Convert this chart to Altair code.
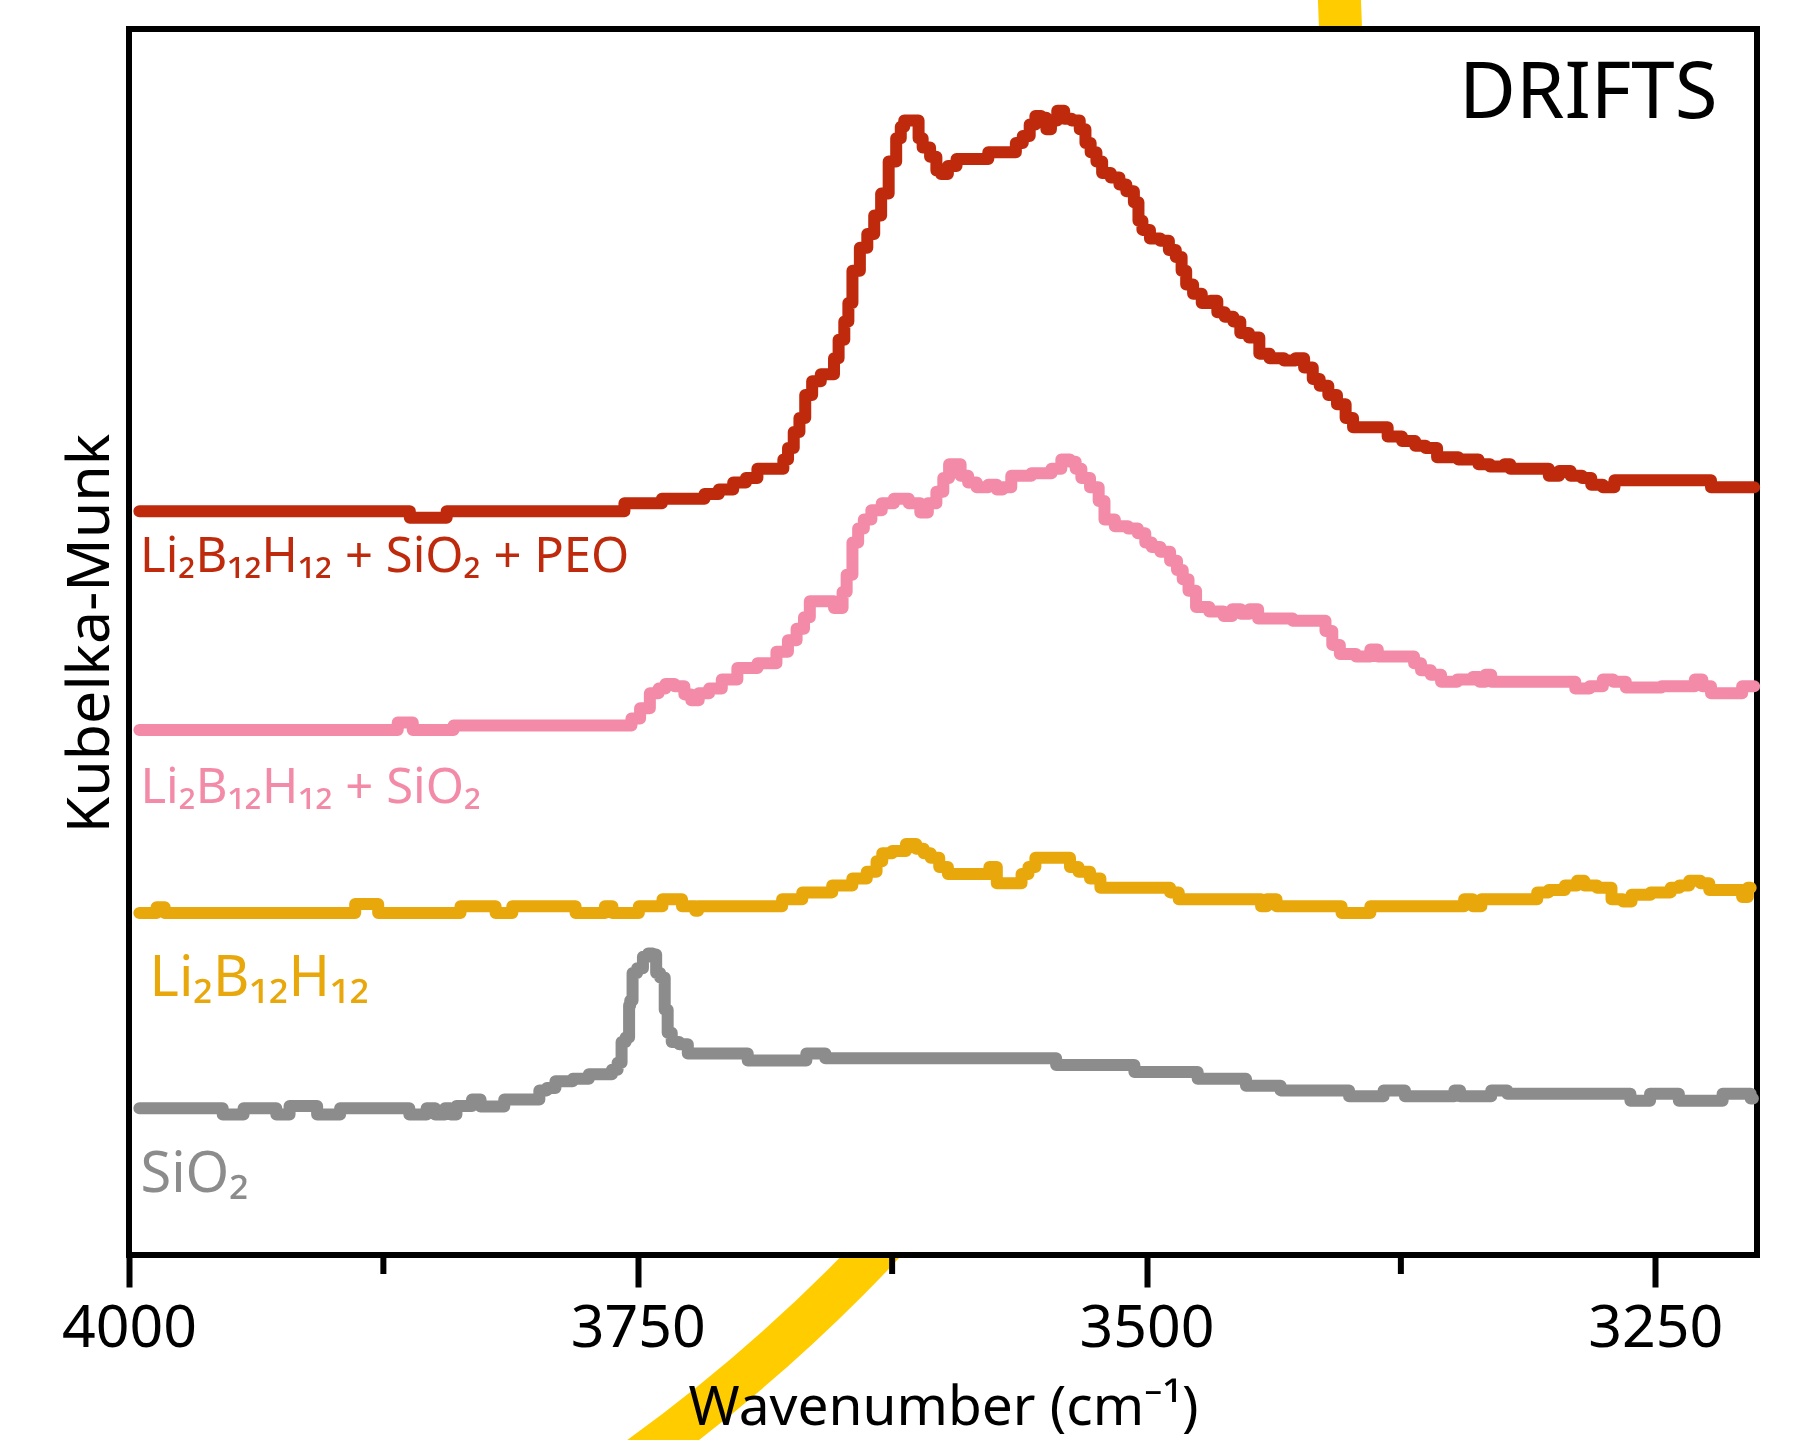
import altair as alt
import pandas as pd

# ---------------- data (wavenumber in cm-1, Kubelka-Munk in arbitrary offset units) -------------
peo_w = [3994.9, 3862.6, 3861.4, 3844.5, 3843.3, 3757.4, 3755.7, 3738.7, 3737.6, 3720.6, 3713.8, 3706.5,
         3699.7, 3694.0, 3688.4, 3679.9, 3677.0, 3675.3, 3671.4, 3669.7, 3665.7, 3662.9, 3657.2, 3654.4,
         3652.7, 3649.9, 3647.1, 3645.9, 3643.1, 3638.6, 3635.8, 3631.8, 3629.0, 3624.4, 3621.6, 3619.9,
         3618.2, 3612.6, 3611.4, 3608.6, 3604.1, 3602.4, 3599.6, 3595.6, 3591.1, 3578.6, 3576.9, 3565.6,
         3562.8, 3558.8, 3556.0, 3553.2, 3550.3, 3548.1, 3545.8, 3541.9, 3539.0, 3534.5, 3531.1, 3528.9,
         3526.0, 3523.2, 3520.4, 3514.7, 3511.9, 3507.9, 3504.5, 3503.4, 3500.6, 3496.0, 3490.4, 3487.6,
         3483.6, 3481.9, 3479.1, 3475.1, 3470.6, 3466.6, 3463.8, 3459.3, 3455.3, 3452.5, 3446.8, 3442.3,
         3436.7, 3428.2, 3425.4, 3419.7, 3416.9, 3412.9, 3408.4, 3404.4, 3399.9, 3397.1, 3382.9, 3380.1,
         3368.8, 3367.1, 3358.6, 3355.8, 3337.7, 3336.0, 3326.4, 3321.8, 3320.7, 3303.7, 3300.9, 3293.6,
         3289.6, 3282.3, 3280.6, 3270.9, 3269.2, 3224.0, 3221.2, 3201.4]
peo_v = [64.6, 64.6, 64.05, 64.05, 64.6, 64.6, 65.3, 65.3, 65.7, 65.7, 66.1, 66.5,
         67.1, 67.5, 68.3, 68.3, 69.1, 70.1, 71.5, 72.7, 74.7, 75.9, 76.5, 76.5,
         77.9, 79.5, 81.1, 82.7, 85.5, 87.5, 88.7, 90.3, 92.2, 95.0, 97.0, 98.0,
         98.55, 98.55, 97.0, 96.2, 95.4, 94.2, 93.9, 94.6, 95.2, 95.2, 95.8, 95.8,
         96.6, 97.2, 98.2, 98.95, 98.8, 97.8, 98.55, 99.4, 98.7, 98.55, 97.8, 96.6,
         95.8, 95.0, 94.0, 93.6, 93.0, 92.4, 91.45, 89.85, 89.05, 88.3, 88.1, 87.3,
         86.7, 85.5, 84.3, 83.5, 82.7, 82.9, 81.9, 81.5, 81.1, 80.1, 79.7, 78.3,
         77.9, 77.7, 77.9, 77.1, 76.1, 75.5, 74.7, 73.9, 72.7, 71.9, 71.9, 71.1,
         70.7, 70.3, 70.1, 69.3, 69.1, 68.7, 68.5, 68.7, 68.3, 68.3, 67.7, 68.1,
         67.7, 67.5, 66.9, 66.7, 67.3, 67.3, 66.7, 66.7]

sio2lb_w = [3994.9, 3868.8, 3867.1, 3861.4, 3859.7, 3841.6, 3839.4, 3755.1, 3751.1, 3746.6, 3741.5, 3738.1,
            3734.7, 3729.1, 3725.1, 3722.3, 3717.8, 3712.1, 3705.3, 3696.8, 3685.5, 3678.2, 3674.2, 3669.7,
            3666.9, 3664.0, 3657.2, 3649.9, 3648.8, 3645.9, 3643.1, 3640.3, 3637.5, 3632.9, 3627.3, 3621.0,
            3612.6, 3609.7, 3605.2, 3601.3, 3598.4, 3595.6, 3592.8, 3589.9, 3585.4, 3581.5, 3574.1, 3573.0,
            3568.4, 3564.5, 3548.7, 3544.7, 3539.0, 3536.2, 3533.4, 3530.6, 3524.9, 3522.1, 3519.2, 3511.9,
            3506.2, 3502.3, 3498.9, 3496.0, 3490.4, 3486.4, 3483.6, 3480.8, 3477.9, 3473.4, 3464.9, 3459.3,
            3456.5, 3450.8, 3448.0, 3442.3, 3414.0, 3410.1, 3407.3, 3402.7, 3391.4, 3388.6, 3384.1, 3369.9,
            3367.1, 3363.1, 3357.5, 3353.0, 3341.6, 3337.7, 3334.9, 3332.0, 3329.2, 3290.7, 3287.9, 3276.6,
            3274.9, 3266.4, 3262.5, 3231.4, 3229.7, 3224.0, 3221.2, 3208.7, 3205.9, 3201.4]
sio2lb_v = [45.6, 45.6, 46.25, 46.25, 45.6, 45.6, 46.0, 46.0, 46.6, 47.5, 48.8, 49.2,
            49.6, 49.4, 48.7, 48.2, 48.8, 49.2, 50.0, 51.0, 51.4, 52.4, 53.4, 54.4,
            55.4, 56.8, 56.8, 56.2, 57.6, 59.1, 61.9, 63.1, 63.9, 64.7, 65.3, 65.7,
            65.3, 64.5, 65.3, 66.3, 67.5, 68.7, 68.7, 67.7, 67.1, 66.7, 66.9, 66.5,
            66.7, 67.7, 67.9, 68.3, 69.1, 68.9, 68.3, 67.5, 66.7, 65.5, 63.9, 63.3,
            63.1, 62.7, 61.9, 61.5, 61.1, 60.3, 59.5, 58.7, 57.7, 56.3, 55.9, 55.5,
            56.1, 55.7, 56.1, 55.3, 55.1, 54.2, 53.0, 52.2, 52.0, 52.6, 52.0, 52.0,
            51.4, 50.8, 50.4, 49.8, 50.0, 50.2, 49.8, 50.4, 49.8, 49.8, 49.2, 49.4,
            50.0, 49.8, 49.3, 49.4, 50.0, 49.4, 48.8, 48.8, 49.4, 49.4]

lb_w = [3994.9, 3987.0, 3985.9, 3983.0, 3981.9, 3889.7, 3888.0, 3878.4, 3876.7, 3837.7, 3836.5, 3820.7,
        3819.0, 3812.2, 3811.1, 3781.1, 3780.0, 3767.0, 3765.3, 3763.0, 3761.9, 3750.0, 3748.9, 3738.7,
        3737.0, 3729.1, 3727.4, 3722.3, 3721.2, 3719.5, 3679.9, 3678.2, 3660.1, 3648.8, 3640.3, 3634.6,
        3630.7, 3629.0, 3621.0, 3615.4, 3610.9, 3608.0, 3604.1, 3599.6, 3595.6, 3578.6, 3575.8, 3571.3,
        3562.8, 3560.0, 3556.0, 3553.2, 3539.0, 3536.2, 3530.6, 3524.9, 3520.4, 3490.4, 3486.4, 3481.9,
        3445.1, 3442.3, 3439.5, 3432.7, 3405.6, 3402.7, 3391.4, 3388.6, 3346.2, 3341.6, 3337.7, 3333.2,
        3309.4, 3306.6, 3298.1, 3290.7, 3286.2, 3283.4, 3273.8, 3269.2, 3262.5, 3260.8, 3243.8, 3241.0,
        3235.3, 3231.4, 3224.0, 3222.9, 3208.7, 3205.9, 3203.1]
lb_v = [29.7, 29.7, 30.2, 30.2, 29.7, 29.7, 30.5, 30.5, 29.7, 29.7, 30.3, 30.3,
        29.7, 29.7, 30.3, 30.3, 29.7, 29.7, 30.3, 30.3, 29.7, 29.7, 30.3, 30.3,
        30.9, 30.9, 30.3, 30.3, 29.9, 30.3, 30.3, 30.9, 31.5, 32.1, 32.7, 33.3,
        34.2, 34.9, 35.1, 35.7, 35.3, 34.9, 34.5, 33.7, 33.1, 33.1, 33.7, 32.3,
        32.3, 33.1, 33.7, 34.5, 34.5, 33.7, 33.3, 32.7, 31.9, 31.9, 31.5, 30.9,
        30.9, 30.3, 30.9, 30.3, 30.3, 29.7, 29.7, 30.3, 30.3, 30.9, 30.3, 30.9,
        30.9, 31.5, 31.7, 32.1, 32.5, 32.1, 31.9, 30.9, 30.7, 31.3, 31.5, 31.9,
        32.1, 32.5, 32.3, 31.7, 31.7, 31.1, 31.9]

si_w = [3994.9, 3954.8, 3953.1, 3945.1, 3942.3, 3928.2, 3927.0, 3922.5, 3919.7, 3908.4, 3906.7, 3897.1,
        3895.4, 3863.1, 3861.4, 3854.6, 3852.9, 3850.1, 3849.0, 3846.2, 3843.3, 3840.5, 3837.7, 3832.0,
        3830.9, 3828.1, 3826.4, 3816.2, 3815.0, 3799.8, 3796.9, 3792.4, 3788.5, 3775.5, 3772.6, 3764.1,
        3761.3, 3758.5, 3757.4, 3754.5, 3754.0, 3753.4, 3751.7, 3748.9, 3746.0, 3743.8, 3741.5, 3740.4,
        3737.6, 3735.9, 3734.7, 3731.9, 3727.4, 3723.4, 3696.8, 3695.1, 3668.6, 3665.7, 3658.4, 3657.2,
        3545.8, 3543.0, 3507.4, 3504.5, 3476.3, 3473.4, 3452.5, 3449.7, 3435.5, 3432.7, 3402.7, 3398.2,
        3385.8, 3381.2, 3374.4, 3371.6, 3350.1, 3347.3, 3344.5, 3332.0, 3329.2, 3324.7, 3320.7, 3263.6,
        3260.8, 3254.0, 3251.1, 3239.8, 3237.0, 3218.3, 3215.5, 3204.2, 3202.0]
si_v = [12.75, 12.75, 12.2, 12.2, 12.75, 12.75, 12.2, 12.2, 12.95, 12.95, 12.2, 12.2,
        12.75, 12.75, 12.2, 12.2, 12.75, 12.75, 12.2, 12.2, 12.75, 12.2, 12.95, 12.95,
        13.5, 13.5, 12.9, 12.9, 13.5, 13.5, 14.3, 14.5, 15.1, 15.3, 15.7, 15.7,
        16.1, 16.7, 18.5, 18.9, 21.7, 22.1, 24.5, 24.9, 25.9, 26.2, 26.1, 24.5,
        24.1, 21.3, 19.3, 18.5, 18.3, 17.5, 17.5, 16.9, 16.9, 17.5, 17.5, 17.1,
        17.1, 16.5, 16.5, 15.9, 15.9, 15.3, 15.3, 14.7, 14.7, 14.3, 14.3, 13.8,
        13.8, 14.3, 14.3, 13.8, 13.8, 14.3, 13.8, 13.8, 14.3, 14.3, 14.0, 14.0,
        13.4, 13.4, 14.0, 14.0, 13.4, 13.4, 14.0, 14.0, 13.6]

series_names = ["Li2B12H12 + SiO2 + PEO", "Li2B12H12 + SiO2", "Li2B12H12", "SiO2"]
series_colors = ["#BE2A0B", "#F38BA8", "#E8A70A", "#8C8C8C"]

label_texts = ["Li₂B₁₂H₁₂ + SiO₂ + PEO", "Li₂B₁₂H₁₂ + SiO₂", "Li₂B₁₂H₁₂", "SiO₂"]
label_w = [3994.6, 3994.4, 3989.9, 3994.4]
label_v = [59.3, 39.3, 22.5, 5.5]
label_size = [49, 49, 56, 56]

x_major = [4000, 3750, 3500, 3250]
x_minor = [3875, 3625, 3375]
x_domain = [3200, 4000]
y_domain = [0, 106.5]

panel_text = "DRIFTS"
panel_w = [3219.4]
panel_v = [98.75]

ring_w = [4235.1]
ring_v = [101.6]

# ---------------- build --------------------------------------------------------------------------
W, H = 1628, 1226
FONT = "Noto Sans"

rows = []
for name, ws, vs in zip(series_names, [peo_w, sio2lb_w, lb_w, si_w], [peo_v, sio2lb_v, lb_v, si_v]):
    for i, (w, v) in enumerate(zip(ws, vs)):
        rows.append({"series": name, "w": w, "v": v, "i": i})
df = pd.DataFrame(rows)

xscale = alt.Scale(domain=x_domain, reverse=True, nice=False, zero=False)
yscale = alt.Scale(domain=y_domain, nice=False, zero=False)
cscale = alt.Scale(domain=series_names, range=series_colors)

x_axis = alt.Axis(values=x_major, format="d", tickSize=32, tickWidth=6, tickColor="black",
                  domain=False, grid=False, labelFontSize=59, labelColor="black", labelFont=FONT,
                  labelPadding=59, labelBaseline="alphabetic", labelFlush=False, labelOverlap=False,
                  title="Wavenumber (cm⁻¹)", titleFontSize=55, titleFontWeight="normal",
                  titleColor="black", titleFont=FONT, titleY=169, titleBaseline="alphabetic", zindex=1)
y_axis = alt.Axis(domain=False, ticks=False, labels=False, grid=False, title="Kubelka-Munk",
                  titleFontSize=59, titleFontWeight="normal", titleColor="black", titleFont=FONT,
                  titleX=-21, titleY=604, titleBaseline="alphabetic", zindex=1)


def X(field="w:Q"):
    return alt.X(field, scale=xscale, axis=x_axis)


def Y(field="v:Q"):
    return alt.Y(field, scale=yscale, axis=y_axis)


# ring diameter in px is sqrt(size) for Vega circle symbols
ring = alt.Chart(pd.DataFrame({"w": ring_w, "v": ring_v})).mark_point(
    shape="circle", filled=False, color="#FFCC00", strokeWidth=43, size=3382 ** 2, opacity=1
).encode(x=X(), y=Y())

frame = alt.Chart(pd.DataFrame({"w": [x_domain[1]], "w2": [x_domain[0]],
                                "v": [y_domain[0]], "v2": [y_domain[1]]})).mark_rect(
    fill="white", stroke="black", strokeWidth=6
).encode(x=X(), x2="w2:Q", y=Y(), y2="v2:Q")

lines = alt.Chart(df).mark_line(strokeWidth=12, strokeCap="round", strokeJoin="round",
                                interpolate="step").encode(
    x=X(),
    y=Y(),
    color=alt.Color("series:N", scale=cscale, legend=None),
    order="i:Q",
    detail="series:N",
)

labels = []
for t, w, v, s, c in zip(label_texts, label_w, label_v, label_size, series_colors):
    labels.append(
        alt.Chart(pd.DataFrame({"w": [w], "v": [v], "t": [t]})).mark_text(
            align="left", baseline="alphabetic", fontSize=s, color=c, font=FONT
        ).encode(x=X(), y=Y(), text="t:N")
    )

panel = alt.Chart(pd.DataFrame({"w": panel_w, "v": panel_v, "t": [panel_text]})).mark_text(
    align="right", baseline="alphabetic", fontSize=78, color="black", font=FONT
).encode(x=X(), y=Y(), text="t:N")

minor = alt.Chart(pd.DataFrame({"w": x_minor})).mark_rule(strokeWidth=6, color="black").encode(
    x=X(), y=alt.value(H), y2=alt.value(H + 19)
)

chart = alt.layer(ring, frame, lines, *labels, panel, minor).properties(
    width=W, height=H,
    autosize=alt.AutoSizeParams(type="none"),
    padding={"left": 129, "top": 29, "right": 1805 - 129 - W, "bottom": 1440 - 29 - H},
    background="white",
).configure_view(stroke=None).configure(font=FONT)

chart.save("out.html", embed_options={"renderer": "svg", "actions": False})
